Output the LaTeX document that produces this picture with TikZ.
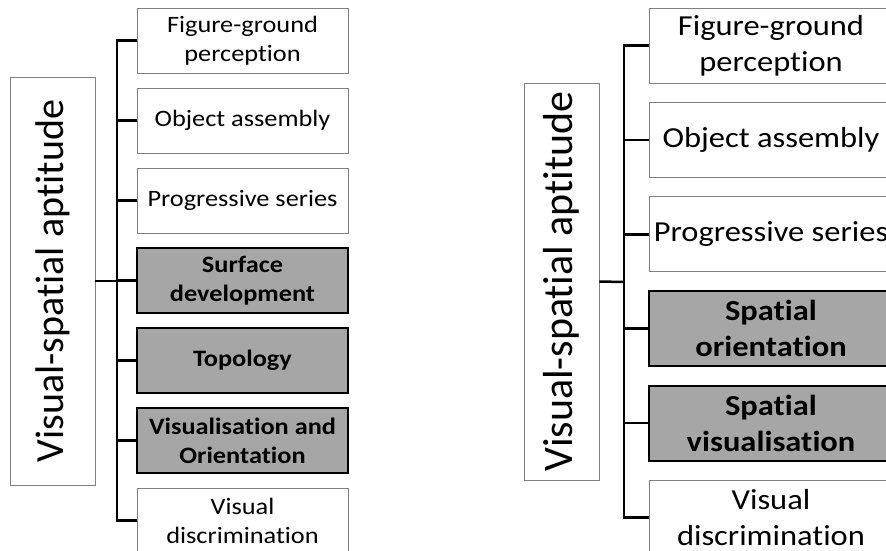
\documentclass[tikz,border=0pt]{standalone}
\usepackage{fontspec}
\setmainfont[Ligatures=NoCommon]{Carlito}
\newfontfamily\boxfont[FakeStretch=1.12,Ligatures=NoCommon]{Carlito}
\usetikzlibrary{positioning}
\definecolor{boxgrey}{RGB}{166,166,166}
\definecolor{edgegrey}{RGB}{128,128,128}

\begin{document}
\begin{tikzpicture}[x=1pt,y=1pt,
  leaf/.style={draw=edgegrey,line width=.8pt,fill=white,align=center,inner sep=0pt},
  keyleaf/.style={draw=black,line width=2.2pt,fill=boxgrey,align=center,inner sep=0pt},
  lsize/.style={minimum width=211,minimum height=65},
  rsize/.style={minimum width=244,minimum height=75},
  lfont/.style={font=\boxfont\fontsize{23.5}{29}\selectfont},
  lbold/.style={font=\boxfont\bfseries\fontsize{23.5}{29}\selectfont},
  rfont/.style={font=\boxfont\fontsize{29}{36}\selectfont},
  rbold/.style={font=\boxfont\bfseries\fontsize{29}{36}\selectfont},
  wire/.style={line width=2.5pt}]
\useasboundingbox (0,0) rectangle (886,-550);
\clip (0,0) rectangle (886,-550);

% left tree
\node[leaf,rotate=90,minimum width=408,minimum height=85,font=\fontsize{40}{48}\selectfont] (rootL) at (52.5,-281) {Visual-spatial aptitude};
\node[leaf,lsize,lfont] (l1) at (242.5,-40.5) {Figure-ground\\perception};
\node[leaf,lsize,lfont] (l2) at (242.5,-120.5) {Object assembly};
\node[leaf,lsize,lfont] (l3) at (242.5,-200.5) {Progressive series};
\node[keyleaf,lsize,lbold] (l4) at (242.5,-280.5) {Surface\\development};
\node[keyleaf,lsize,lbold] (l5) at (242.5,-360.5) {Topology};
\node[keyleaf,lsize,lbold] (l6) at (242.5,-440.5) {Visualisation and\\Orientation};
\node[leaf,lsize,lfont] (l7) at (242.5,-520.5) {Visual\\discrimination};
\coordinate (jL) at (117,-281);
\draw[wire] (rootL.south) -- (jL);
\draw[wire] (l1.west) -- (l1.west -| jL) -- (l7.west -| jL) -- (l7.west);
\draw[wire] (l2.west) -- (l2.west -| jL);
\draw[wire] (l3.west) -- (l3.west -| jL);
\draw[wire] (l4.west) -- (l4.west -| jL);
\draw[wire] (l5.west) -- (l5.west -| jL);
\draw[wire] (l6.west) -- (l6.west -| jL);

% right tree
\node[leaf,rotate=90,minimum width=397,minimum height=75,font=\fontsize{42}{50}\selectfont] (rootR) at (561.5,-281.5) {Visual-spatial aptitude};
\node[leaf,rsize,rfont] (r1) at (771,-45.5) {Figure-ground\\perception};
\node[leaf,rsize,rfont] (r2) at (771,-139.9) {Object assembly};
\node[leaf,rsize,rfont] (r3) at (771,-234.3) {Progressive series};
\node[keyleaf,rsize,rbold] (r4) at (771,-328.7) {Spatial\\orientation};
\node[keyleaf,rsize,rbold] (r5) at (771,-423.1) {Spatial\\visualisation};
\node[leaf,rsize,rfont] (r6) at (771,-517.5) {Visual\\discrimination};
\coordinate (jR) at (624,-282);
\draw[wire] (rootR.south) -- (jR);
\draw[wire] (r1.west) -- (r1.west -| jR) -- (r6.west -| jR) -- (r6.west);
\draw[wire] (r2.west) -- (r2.west -| jR);
\draw[wire] (r3.west) -- (r3.west -| jR);
\draw[wire] (r4.west) -- (r4.west -| jR);
\draw[wire] (r5.west) -- (r5.west -| jR);
\end{tikzpicture}
\end{document}
